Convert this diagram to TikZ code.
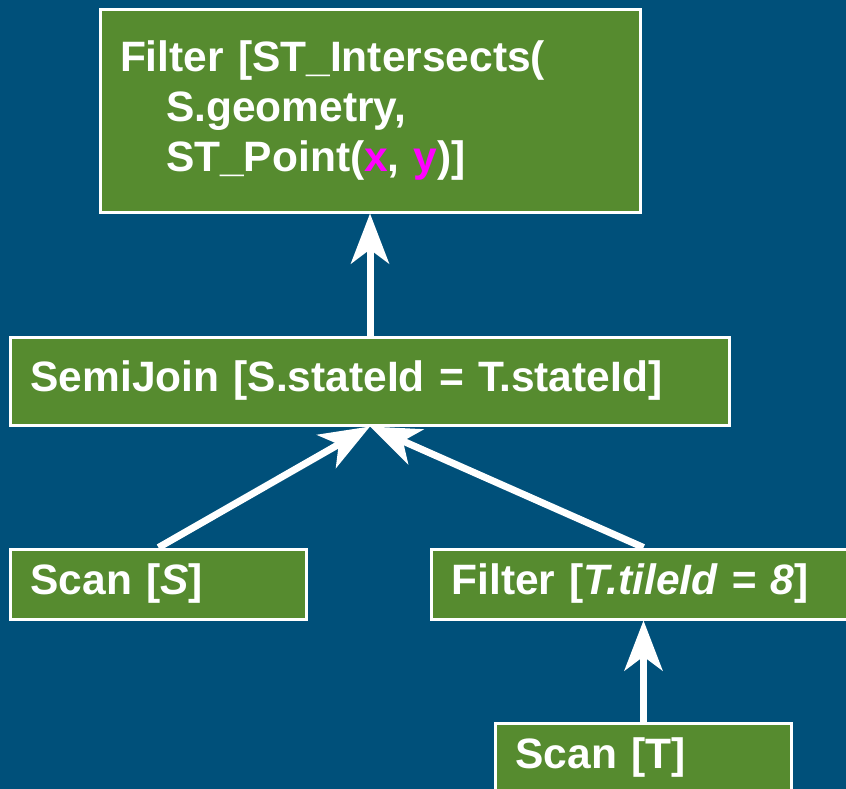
\documentclass[tikz,border=0pt]{standalone}
\usepackage{fontspec}
\setmainfont{Liberation Sans}
\usetikzlibrary{positioning,arrows.meta}
\definecolor{planblue}{RGB}{0,80,122}
\definecolor{opgreen}{RGB}{86,139,47}
\definecolor{argpink}{RGB}{255,0,255}

\begin{document}
\begin{tikzpicture}[x=1pt, y=1pt, node distance=120pt,
        opbox/.style={draw=white, line width=3pt, fill=opgreen, text=white, align=left, inner xsep=20pt, inner ysep=0pt, font=\fontsize{42.5}{50}\selectfont\bfseries},
        flow/.style={draw=white, line width=7pt, -{Stealth[length=50pt, width=38pt, inset=14pt]}}]
        \fill[planblue] (0,0) rectangle (846,-789);
        \useasboundingbox (0,0) rectangle (846,-789);

        \node[opbox, text width=500pt, minimum height=202pt] (filtergeo) at (370,-111) {Filter [ST\_Intersects(\\\hspace*{46pt}S.geometry,\\\hspace*{46pt}ST\_Point(\textcolor{argpink}{x}, \textcolor{argpink}{y})]};
        \node[opbox, text width=679pt, minimum height=88pt, below=122pt of filtergeo] (semijoin) {SemiJoin [S.stateId = T.stateId]};
        \node[opbox, text width=256pt, minimum height=70pt, below=121pt of semijoin.south west, anchor=north west] (scans) {Scan [\textit{S}]};
        \node[opbox, text width=384pt, minimum height=70pt, right=122pt of scans] (filtert) {Filter [\textit{T.tileId = 8}]};
        \node[opbox, text width=256pt, minimum height=70pt, below=101pt of filtert] (scant) {Scan [T]};

        \draw[flow] (semijoin) -- (filtergeo);
        \draw[flow] (scans.north) -- (semijoin.south);
        \draw[flow] (filtert.north) -- (semijoin.south);
        \draw[flow] (scant) -- (filtert);
    \end{tikzpicture}
\end{document}
